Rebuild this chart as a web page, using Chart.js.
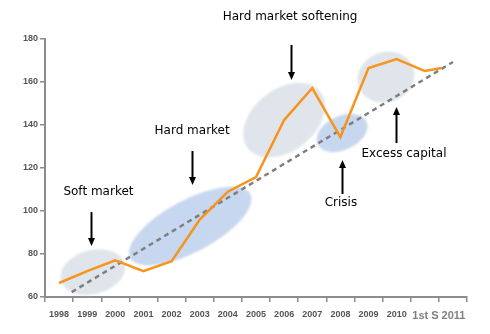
<!DOCTYPE html>
<html lang="en">
<head>
    <meta charset="UTF-8">
    <title>Market cycle</title>
    <script src="https://cdn.jsdelivr.net/npm/chart.js"></script>
    <style>
        * { margin: 0; padding: 0; box-sizing: border-box; }
        body { background: #fff; width: 490px; height: 334px; overflow: hidden; }
        .chart-box { position: relative; width: 490px; height: 334px; }
    </style>
</head>
<body>
    <div class="chart-box">
        <canvas id="cycleChart"></canvas>
    </div>

    <script>
        // ===== data =====
        const years = [1998, 1999, 2000, 2001, 2002, 2003, 2004, 2005, 2006, 2007, 2008, 2009, 2010, 2011, 2011.6];
        const index = [66.5, 72, 77, 72, 76.7, 96, 109, 115.8, 142.3, 157.2, 134.4, 166.5, 170.7, 165.1, 166.5];
        const trendYears = [1998.45, 2012];
        const trendValues = [62.3, 169.3];
        const yTicks = [60, 80, 100, 120, 140, 160, 180];
        const lastLabel = '1st S 2011';

        // shaded phases: centre (year, value)
        const phaseYears = [1999.2, 2002.66, 2006.0, 2008.06, 2009.62];
        const phaseValues = [71.6, 93, 142.3, 136.3, 162.3];
        // phase notes: text centre (year, value), arrow (year, from, to)
        const noteTexts = ['Soft market', 'Hard market', 'Hard market softening', 'Crisis', 'Excess capital'];
        const noteYears = [1999.4, 2002.73, 2006.21, 2008.02, 2010.26];
        const noteValues = [108.8, 137.2, 190.2, 103.7, 126.5];
        const arrowYears = [1999.14, 2002.73, 2006.25, 2008.06, 2009.98];
        const arrowFrom = [99.5, 127.9, 177.2, 107.9, 131.6];
        const arrowTo = [83.7, 112.1, 160.9, 123.7, 148.4];

        // ellipse look (pixels / degrees), kept apart from the data
        const phaseStyle = [
            { rx: 33, ry: 22, rot: -15, color: '#dfe5ea' },
            { rx: 68, ry: 26, rot: -28, color: '#c7d7ef' },
            { rx: 46, ry: 31, rot: -38, color: '#dfe5ea' },
            { rx: 27, ry: 17, rot: -25, color: '#c7d7ef' },
            { rx: 29, ry: 25, rot: -20, color: '#dfe5ea' }
        ];

        const phasesPlugin = {
            id: 'phases',
            beforeDatasetsDraw(chart) {
                const { ctx, scales: { x, y } } = chart;
                ctx.save();
                ctx.filter = 'blur(1.2px)';
                phaseYears.forEach((yr, i) => {
                    const s = phaseStyle[i];
                    ctx.beginPath();
                    ctx.ellipse(x.getPixelForValue(yr), y.getPixelForValue(phaseValues[i]),
                        s.rx, s.ry, s.rot * Math.PI / 180, 0, Math.PI * 2);
                    ctx.fillStyle = s.color;
                    ctx.fill();
                });
                ctx.restore();
            },
            afterDraw(chart) {
                const { ctx, scales: { x, y } } = chart;
                ctx.save();
                ctx.fillStyle = '#000';
                ctx.strokeStyle = '#000';
                ctx.font = '12px "DejaVu Sans", sans-serif';
                ctx.textAlign = 'center';
                ctx.textBaseline = 'middle';
                noteTexts.forEach((t, i) => {
                    ctx.fillText(t, x.getPixelForValue(noteYears[i]), y.getPixelForValue(noteValues[i]));
                });
                arrowYears.forEach((yr, i) => {
                    const px = Math.round(x.getPixelForValue(yr)) + 0.5;
                    const y0 = y.getPixelForValue(arrowFrom[i]);
                    const y1 = y.getPixelForValue(arrowTo[i]);
                    const dir = y1 > y0 ? 1 : -1;
                    ctx.lineWidth = 2;
                    ctx.beginPath();
                    ctx.moveTo(px, y0);
                    ctx.lineTo(px, y1 - dir * 7);
                    ctx.stroke();
                    ctx.beginPath();
                    ctx.moveTo(px - 3.5, y1 - dir * 8);
                    ctx.lineTo(px + 3.5, y1 - dir * 8);
                    ctx.lineTo(px, y1);
                    ctx.closePath();
                    ctx.fill();
                });
                ctx.restore();
            }
        };

        const tickFont = { family: '"Liberation Sans Narrow", "Liberation Sans", sans-serif', size: 9, weight: 'bold' };

        new Chart(document.getElementById('cycleChart'), {
            type: 'line',
            data: {
                datasets: [
                    {
                        data: years.map((yr, i) => ({ x: yr, y: index[i] })),
                        borderColor: '#f7941d',
                        borderWidth: 2.5,
                        pointRadius: 0,
                        tension: 0
                    },
                    {
                        data: trendYears.map((yr, i) => ({ x: yr, y: trendValues[i] })),
                        borderColor: '#7f7f7f',
                        borderWidth: 2.5,
                        borderDash: [5, 4],
                        pointRadius: 0
                    }
                ]
            },
            options: {
                responsive: true,
                maintainAspectRatio: false,
                animation: false,
                layout: { padding: { top: 39, right: 23, left: 0, bottom: 0 } },
                plugins: { legend: { display: false }, tooltip: { enabled: false } },
                scales: {
                    x: {
                        type: 'linear',
                        min: 1997.5,
                        max: 2012.5,
                        afterFit(scale) { scale.height = 37; },
                        afterBuildTicks(scale) {
                            const t = [];
                            for (let v = 1997.5; v <= 2012.5; v += 0.5) t.push({ value: v });
                            scale.ticks = t;
                        },
                        border: { color: '#8c8c8c', width: 2 },
                        grid: {
                            drawOnChartArea: false,
                            tickLength: 5,
                            lineWidth: 1.5,
                            color: ctx => (ctx.tick && ctx.tick.value % 1 === 0) ? 'rgba(0,0,0,0)' : '#8c8c8c'
                        },
                        ticks: {
                            autoSkip: false,
                            maxRotation: 0,
                            padding: 7,
                            font: ctx => (ctx.tick && ctx.tick.value === 2011.5)
                                ? { family: tickFont.family, size: 11, weight: 'bold' } : tickFont,
                            color: ctx => (ctx.tick && ctx.tick.value === 2011.5) ? '#808080' : '#555',
                            callback: v => {
                                if (v === 2011.5) return lastLabel;
                                if (v % 1 === 0 && v <= 2010) return String(v);
                                return '';
                            }
                        }
                    },
                    y: {
                        min: 60,
                        max: 180,
                        afterFit(scale) { scale.width = 45; },
                        afterBuildTicks(scale) { scale.ticks = yTicks.map(v => ({ value: v })); },
                        border: { color: '#8c8c8c', width: 2 },
                        grid: { drawOnChartArea: false, tickLength: 5, lineWidth: 1.5, color: '#8c8c8c' },
                        ticks: { padding: 2, font: tickFont, color: '#555' }
                    }
                }
            },
            plugins: [phasesPlugin]
        });
    </script>
</body>
</html>
